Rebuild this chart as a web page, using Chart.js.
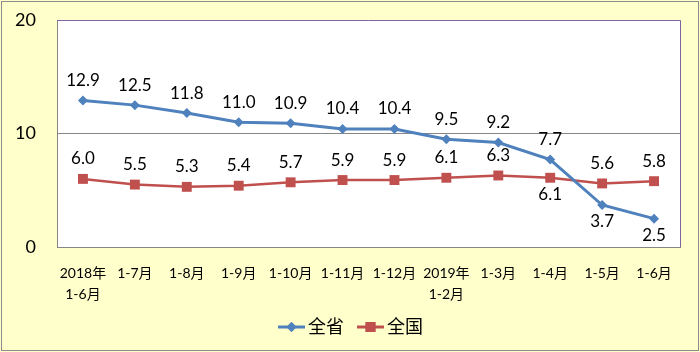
<!DOCTYPE html>
<html>
<head>
<meta charset="utf-8">
<script src="https://cdn.jsdelivr.net/npm/chart.js@4"></script>
<style>
  body { margin: 0; background: #fff; }
  canvas { display: block; }
</style>
</head>
<body>
<canvas id="chartGrowth" width="700" height="352"></canvas>
<script>
// categories & series
const categories = [['2018年', '1-6月'], '1-7月', '1-8月', '1-9月', '1-10月', '1-11月', '1-12月',
    ['2019年', '1-2月'], '1-3月', '1-4月', '1-5月', '1-6月'];
const provinceValues = [12.9, 12.5, 11.8, 11.0, 10.9, 10.4, 10.4, 9.5, 9.2, 7.7, 3.7, 2.5];
const nationValues = [6.0, 5.5, 5.3, 5.4, 5.7, 5.9, 5.9, 6.1, 6.3, 6.1, 5.6, 5.8];
const provinceLabelPos = ['up', 'up', 'up', 'up', 'up', 'up', 'up', 'up', 'up', 'up', 'down', 'down'];
const nationLabelPos = ['up', 'up', 'up', 'up', 'up', 'up', 'up', 'up', 'up', 'down', 'up', 'up'];
const yTicks = [0, 10, 20];

const FONT = "Lato, 'Noto Sans CJK SC', sans-serif";
const BLUE = '#4F81BD';
const RED = '#C0504D';

// background, plot frame, data labels, legend
const decorPlugin = {
    id: 'decor',
    beforeDraw(chart) {
        const ctx = chart.ctx;
        const a = chart.chartArea;
        ctx.save();
        ctx.fillStyle = '#FFFFCC';
        ctx.fillRect(0, 0, chart.width, chart.height);
        ctx.fillStyle = '#FFFFFF';
        ctx.fillRect(a.left, a.top, a.right - a.left, a.bottom - a.top);
        ctx.strokeStyle = '#8C8C8C';
        ctx.lineWidth = 1;
        ctx.strokeRect(1.5, 1.5, chart.width - 3, chart.height - 3);
        ctx.restore();
    },
    afterDatasetsDraw(chart) {
        const ctx = chart.ctx;
        const a = chart.chartArea;
        ctx.save();
        // top / right frame
        ctx.strokeStyle = '#8064A2';
        ctx.lineWidth = 1;
        ctx.beginPath();
        ctx.moveTo(a.left, a.top + 0.5);
        ctx.lineTo(a.right + 0.5, a.top + 0.5);
        ctx.lineTo(a.right + 0.5, a.bottom);
        ctx.stroke();

        // value labels
        ctx.font = '17px ' + FONT;
        ctx.fillStyle = '#000';
        ctx.textAlign = 'center';
        ctx.textBaseline = 'middle';
        const posSets = [provinceLabelPos, nationLabelPos];
        chart.data.datasets.forEach((ds, di) => {
            chart.getDatasetMeta(di).data.forEach((pt, i) => {
                const dy = posSets[di][i] === 'up' ? -20 : 17;
                ctx.fillText(ds.data[i].toFixed(1), pt.x, pt.y + dy);
            });
        });

        // legend
        const items = [
            { text: '全省', color: BLUE, style: 'rectRot', radius: 5, x: 278 },
            { text: '全国', color: RED, style: 'rect', radius: 7, x: 357 }
        ];
        const ly = 327;
        ctx.font = '18px ' + FONT;
        ctx.textAlign = 'left';
        items.forEach(it => {
            ctx.strokeStyle = it.color;
            ctx.fillStyle = it.color;
            ctx.lineWidth = 3;
            ctx.beginPath();
            ctx.moveTo(it.x, ly);
            ctx.lineTo(it.x + 27, ly);
            ctx.stroke();
            Chart.helpers.drawPoint(ctx, { pointStyle: it.style, radius: it.radius, rotation: 0, borderWidth: 0 }, it.x + 13.5, ly);
            ctx.fill();
            ctx.fillStyle = '#000';
            ctx.fillText(it.text, it.x + 30, ly);
        });
        ctx.restore();
    }
};

function initGrowthChart() {
    const ctx = document.getElementById('chartGrowth');
    new Chart(ctx, {
        type: 'line',
        data: {
            labels: categories,
            datasets: [{
                label: '全省',
                data: provinceValues,
                borderColor: BLUE,
                backgroundColor: BLUE,
                borderWidth: 3,
                pointStyle: 'rectRot',
                pointRadius: 5,
                pointBorderWidth: 0,
                tension: 0
            }, {
                label: '全国',
                data: nationValues,
                borderColor: RED,
                backgroundColor: RED,
                borderWidth: 2.5,
                pointStyle: 'rect',
                pointRadius: 7,
                pointBorderWidth: 0,
                tension: 0
            }]
        },
        options: {
            responsive: false,
            animation: false,
            layout: { padding: { top: 20, right: 20, bottom: 0, left: 0 } },
            plugins: {
                legend: { display: false },
                tooltip: { enabled: false }
            },
            scales: {
                x: {
                    offset: true,
                    afterFit: s => { s.height = 105; },
                    grid: { display: false, drawTicks: false },
                    border: { color: '#868686' },
                    ticks: {
                        padding: 16,
                        maxRotation: 0,
                        autoSkip: false,
                        color: '#000',
                        font: { family: FONT, size: 14, lineHeight: 1.5 }
                    }
                },
                y: {
                    min: 0,
                    max: 20,
                    afterFit: s => {
                        s.width = 57;
                        s.paddingTop = 11;
                        s.paddingBottom = 11;
                    },
                    afterBuildTicks: s => { s.ticks = yTicks.map(v => ({ value: v })); },
                    grid: {
                        drawTicks: false,
                        color: ctx => (ctx.tick && ctx.tick.value === 10 ? '#868686' : 'rgba(0,0,0,0)')
                    },
                    border: { color: '#868686' },
                    ticks: {
                        padding: 21,
                        color: '#000',
                        font: { family: FONT, size: 18 }
                    }
                }
            }
        },
        plugins: [decorPlugin]
    });
}

document.addEventListener('DOMContentLoaded', initGrowthChart);
</script>
</body>
</html>
